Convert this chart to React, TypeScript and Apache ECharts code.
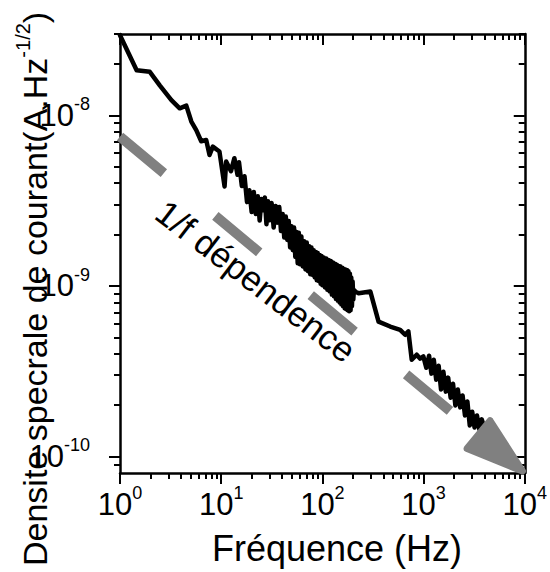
import React, { useEffect, useRef } from 'react';
import * as echarts from 'echarts';

const X_RANGE = [1, 10000];
const Y_RANGE = [8e-11, 3e-8];
const X_TICKS = [1, 10, 100, 1000, 10000];
const X_MINOR = [2, 3, 4, 5, 6, 7, 8, 9, 20, 30, 40, 50, 60, 70, 80, 90, 200, 300, 400, 500, 600, 700, 800, 900, 2000, 3000, 4000, 5000, 6000, 7000, 8000, 9000];
const Y_TICKS = [1e-10, 1e-9, 1e-8];
const Y_MINOR = [9e-11, 2e-10, 3e-10, 4e-10, 5e-10, 6e-10, 7e-10, 8e-10, 9e-10, 2e-9, 3e-9, 4e-9, 5e-9, 6e-9, 7e-9, 8e-9, 9e-9, 2e-8, 3e-8];

const FREQ_HZ = [
  1, 1.46, 1.97, 2.47, 3.22, 3.89, 4.52, 5.07, 5.67, 6.35, 7.11, 7.67, 8.26, 9.61, 10.8, 11.2, 12.5, 13.5, 14.5,
  15, 16, 17, 18, 19, 20, 21, 22, 23, 24, 25, 26, 27, 28, 29, 30,
  31.5, 33, 34.5, 36, 37.5, 39, 40.5, 42, 43.5, 45, 46.5, 48, 49.5, 51, 52.5, 54, 55.5, 57, 58.5, 60,
  62, 64, 66, 68, 70, 72, 74, 76, 78, 80, 82, 84, 86, 88, 90, 92, 94, 96, 98, 100,
  103, 106, 109, 112, 115, 118, 121, 124, 127, 130, 133, 136, 139, 142, 145, 148, 151, 154, 157, 160, 163, 166, 169, 172, 175, 178, 181, 184, 187, 190, 193, 196, 199, 202, 205,
  212, 228, 298, 359, 468, 587, 657, 708, 764, 855, 923, 995,
  1065, 1133, 1196, 1262, 1333, 1409, 1488, 1570, 1660, 1750, 1852, 1955, 2064, 2180, 2302, 2430, 2566, 2710, 2862, 3022, 3190, 3370, 3560, 3760, 3970,
];

const DENSITY = [
  2.95e-8, 1.84e-8, 1.8e-8, 1.5e-8, 1.23e-8, 1.1e-8, 1.14e-8, 9.2e-9, 8.2e-9, 7.05e-9, 7.17e-9, 5.86e-9, 6.56e-9, 6.14e-9, 3.83e-9, 5.36e-9, 4.71e-9, 5.61e-9, 4.48e-9,
  5.31e-9, 3.85e-9, 4.4e-9, 3.1e-9, 3.64e-9, 2.71e-9, 3.55e-9, 2.64e-9, 3.36e-9, 2.42e-9, 3.23e-9, 2.78e-9, 3.3e-9, 2.3e-9, 3.14e-9, 2.43e-9,
  3.06e-9, 2.2e-9, 2.94e-9, 2.35e-9, 2.9e-9, 2.1e-9, 2.64e-9, 1.92e-9, 2.55e-9, 1.86e-9, 2.4e-9, 1.68e-9, 2.24e-9, 1.62e-9, 2.2e-9, 1.48e-9, 2.07e-9, 1.36e-9, 2.05e-9, 1.34e-9,
  1.95e-9, 1.3e-9, 1.83e-9, 1.25e-9, 1.8e-9, 1.22e-9, 1.71e-9, 1.17e-9, 1.68e-9, 1.16e-9, 1.62e-9, 1.12e-9, 1.58e-9, 1.08e-9, 1.56e-9, 1.07e-9, 1.52e-9, 1.03e-9, 1.5e-9, 1.01e-9,
  1.47e-9, 9.8e-10, 1.45e-9, 9.5e-10, 1.42e-9, 9.3e-10, 1.4e-9, 8.9e-10, 1.37e-9, 8.7e-10, 1.35e-9, 8.4e-10, 1.33e-9, 8.2e-10, 1.31e-9, 8.0e-10, 1.3e-9, 7.8e-10, 1.28e-9, 7.6e-10, 1.26e-9, 7.4e-10, 1.25e-9, 7.3e-10, 1.24e-9, 7.2e-10, 1.22e-9, 7.1e-10, 1.18e-9, 7.2e-10, 1.12e-9, 7.6e-10, 1.06e-9, 8.3e-10, 9.47e-10,
  9.26e-10, 9.05e-10, 9.27e-10, 6.18e-10, 5.78e-10, 5.53e-10, 5.17e-10, 5.41e-10, 3.69e-10, 3.95e-10, 3.75e-10, 3.86e-10,
  3.31e-10, 3.9e-10, 3.06e-10, 3.69e-10, 2.82e-10, 3.4e-10, 2.47e-10, 3.14e-10, 2.4e-10, 2.9e-10, 2.21e-10, 2.67e-10, 1.99e-10, 2.47e-10, 1.94e-10, 2.28e-10, 1.74e-10, 2.1e-10, 1.52e-10, 1.83e-10, 1.48e-10, 1.74e-10, 1.44e-10, 1.65e-10, 1.48e-10,
];

const TREND_START = [1, 7.5e-9];
const TREND_END = [10000, 8e-11];

const X_TITLE = 'Fréquence (Hz)';
const Y_TITLE = 'Densite specrale de courant(A.Hz{s|-1/2})';
const ANNOTATION = '1/f dépendence';

const FONT = "'Liberation Sans', Arial, Helvetica, sans-serif";
const GRAY = '#808080';

const powLabel = (v: number) => `{b|10}{s|${Math.round(Math.log10(v))}}`;
const labelRich = {
  b: { fontSize: 31, fontFamily: FONT, color: '#000', lineHeight: 40 },
  s: { fontSize: 18, fontFamily: FONT, color: '#000', lineHeight: 18, verticalAlign: 'top' },
};
const tickLine = { color: '#000', width: 2 };
const axisLineStyle = { color: '#000', width: 2.5 };

export default function App() {
  const ref = useRef<HTMLDivElement>(null);

  useEffect(() => {
    if (!ref.current) return;
    const chart = echarts.init(ref.current, undefined, { renderer: 'svg' });
    const n = Math.min(FREQ_HZ.length, DENSITY.length);
    const lineData = [] as number[][];
    for (let i = 0; i < n; i++) lineData.push([FREQ_HZ[i], DENSITY[i]]);

    const baseX = { type: 'log', logBase: 10, min: X_RANGE[0], max: X_RANGE[1], gridIndex: 0, splitLine: { show: false } };
    const baseY = { type: 'log', logBase: 10, min: Y_RANGE[0], max: Y_RANGE[1], gridIndex: 0, splitLine: { show: false } };

    const option: any = {
      animation: false,
      backgroundColor: '#fff',
      grid: { left: 120, right: 23, top: 34, bottom: 99, containLabel: false },
      xAxis: [
        {
          ...baseX, position: 'bottom',
          axisLine: { show: true, onZero: false, lineStyle: axisLineStyle },
          axisTick: { show: true, inside: false, length: 11, lineStyle: tickLine, customValues: X_TICKS },
          axisLabel: { show: true, customValues: X_TICKS, margin: 11, formatter: powLabel, rich: labelRich },
        },
        {
          ...baseX, position: 'bottom',
          axisLine: { show: false, onZero: false },
          axisTick: { show: true, inside: false, length: 6, lineStyle: tickLine, customValues: X_MINOR },
          axisLabel: { show: false },
        },
        {
          ...baseX, position: 'top',
          axisLine: { show: true, onZero: false, lineStyle: axisLineStyle },
          axisTick: { show: true, inside: true, length: 11, lineStyle: tickLine, customValues: X_TICKS },
          axisLabel: { show: false },
        },
        {
          ...baseX, position: 'top',
          axisLine: { show: false, onZero: false },
          axisTick: { show: true, inside: true, length: 6, lineStyle: tickLine, customValues: X_MINOR },
          axisLabel: { show: false },
        },
      ],
      yAxis: [
        {
          ...baseY, position: 'left',
          axisLine: { show: true, onZero: false, lineStyle: axisLineStyle },
          axisTick: { show: true, inside: false, length: 11, lineStyle: tickLine, customValues: Y_TICKS },
          axisLabel: { show: true, customValues: Y_TICKS, margin: 30, formatter: powLabel, rich: labelRich },
        },
        {
          ...baseY, position: 'left',
          axisLine: { show: false, onZero: false },
          axisTick: { show: true, inside: false, length: 6, lineStyle: tickLine, customValues: Y_MINOR },
          axisLabel: { show: false },
        },
        {
          ...baseY, position: 'right',
          axisLine: { show: true, onZero: false, lineStyle: axisLineStyle },
          axisTick: { show: true, inside: true, length: 11, lineStyle: tickLine, customValues: Y_TICKS },
          axisLabel: { show: false },
        },
        {
          ...baseY, position: 'right',
          axisLine: { show: false, onZero: false },
          axisTick: { show: true, inside: true, length: 6, lineStyle: tickLine, customValues: Y_MINOR },
          axisLabel: { show: false },
        },
      ],
      series: [
        {
          type: 'line',
          xAxisIndex: 0,
          yAxisIndex: 0,
          data: lineData,
          showSymbol: false,
          symbol: 'none',
          lineStyle: { color: '#000', width: 4.5, join: 'round', cap: 'round' },
          z: 2,
        },
        {
          type: 'custom',
          xAxisIndex: 0,
          yAxisIndex: 0,
          data: [[TREND_START[0], TREND_START[1], TREND_END[0], TREND_END[1]]],
          encode: { x: [0, 2], y: [1, 3] },
          clip: false,
          z: 3,
          renderItem: (_params: any, api: any) => {
            const p1 = api.coord([api.value(0), api.value(1)]);
            const p2 = api.coord([api.value(2), api.value(3)]);
            const dx = p2[0] - p1[0];
            const dy = p2[1] - p1[1];
            const len = Math.hypot(dx, dy);
            const ux = dx / len;
            const uy = dy / len;
            const L = 60;
            const W = 18;
            const bx = p2[0] - ux * L;
            const by = p2[1] - uy * L;
            return {
              type: 'group',
              children: [
                {
                  type: 'line',
                  shape: { x1: p1[0], y1: p1[1], x2: bx, y2: by },
                  style: { stroke: GRAY, lineWidth: 10, lineDash: [57, 67], lineCap: 'butt', fill: null },
                },
                {
                  type: 'polygon',
                  shape: {
                    points: [
                      [p2[0] - ux * 3, p2[1] - uy * 3],
                      [bx - uy * W, by + ux * W],
                      [bx + uy * W, by - ux * W],
                    ],
                  },
                  style: { fill: GRAY, stroke: GRAY, lineWidth: 7, lineJoin: 'round' },
                },
              ],
            };
          },
        },
      ],
      graphic: [
        {
          type: 'text',
          x: 337,
          y: 548,
          style: {
            text: X_TITLE, fontSize: 36, fontFamily: FONT, fill: '#000',
            align: 'center', verticalAlign: 'middle', textAlign: 'center', textVerticalAlign: 'middle',
          },
        },
        {
          type: 'text',
          x: 35,
          y: 566,
          rotation: Math.PI / 2,
          style: {
            text: Y_TITLE, fontSize: 34, fontFamily: FONT, fill: '#000', lineHeight: 44,
            align: 'left', verticalAlign: 'middle', textAlign: 'left', textVerticalAlign: 'middle',
            rich: { s: { fontSize: 20, fontFamily: FONT, fill: '#000', lineHeight: 20, verticalAlign: 'top' } },
          },
        },
        {
          type: 'text',
          x: 256,
          y: 281,
          rotation: (-37.5 * Math.PI) / 180,
          style: {
            text: ANNOTATION, fontSize: 35, fontFamily: FONT, fill: '#000',
            align: 'center', verticalAlign: 'middle', textAlign: 'center', textVerticalAlign: 'middle',
          },
        },
      ],
    };

    chart.setOption(option);
    return () => chart.dispose();
  }, []);

  return <div ref={ref} style={{ position: 'fixed', left: 0, top: 0, width: 550, height: 572, background: '#fff' }} />;
}
